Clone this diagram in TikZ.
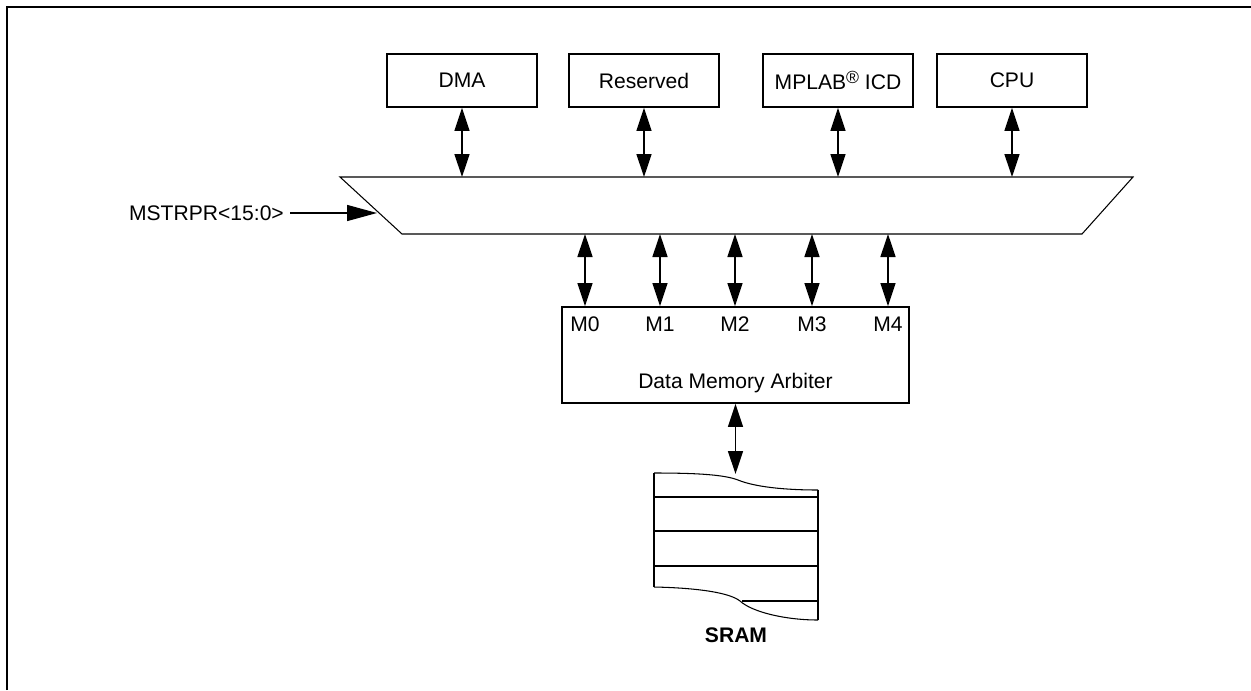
\documentclass[tikz,border=0pt]{standalone}
\usepackage{fontspec}
\setmainfont{Liberation Sans}
\usetikzlibrary{arrows.meta}

\begin{document}
\begin{tikzpicture}[x=0.02cm, y=-0.02cm,
  font=\fontsize{12}{14}\selectfont,
  >={Triangle[length=0.46cm,width=0.3cm]},
  block/.style={draw, line width=1pt, minimum width=3cm, minimum height=1.06cm, inner sep=0pt},
  link/.style={<->, line width=0.8pt}]
\useasboundingbox (0,0) rectangle (1251,690);
\draw[line width=1.2pt] (7,690) -- (7,7) -- (1251,7);

\node[block] (dma) at (462,80.5) {DMA};
\node[block] (res) at (644,80.5) {Reserved};
\node[block] (icd) at (838,80.5) {MPLAB\raisebox{0.55ex}{\fontsize{10}{10}\selectfont\textregistered} ICD};
\node[block] (cpu) at (1012,80.5) {CPU};

\coordinate (mtl) at (340,177);
\coordinate (mtr) at (1133,177);
\coordinate (mbr) at (1082,234);
\coordinate (mbl) at (402,234);
\draw[line width=0.6pt] (mtl) -- (mtr) -- (mbr) -- (mbl) -- cycle;

\foreach \m in {dma, res, icd, cpu}
	\draw[link] (\m.south) -- (\m.south |- mtl);

\node[anchor=east] (sel) at (290,213) {MSTRPR<15:0>};
\coordinate (selin) at (377,213);
\draw[->, line width=0.8pt, >={Triangle[length=0.6cm,width=0.32cm]}] (sel) -- (selin);

\node[draw, line width=1pt, minimum width=6.94cm, minimum height=1.92cm] (arb) at (735.5,355) {};
\node (arbtxt) at (735.5,383) {Data Memory Arbiter};

\foreach \i/\x in {0/585, 1/660, 2/735, 3/812, 4/888} {
	\coordinate (p\i) at (\x,234);
	\node (m\i) at (\x,324) {M\i};
	\draw[link] (p\i) -- (p\i |- arb.north);
}

\coordinate (sramtop) at (735.5,474);
\draw[link] (arb.south) -- (sramtop);

\draw[line width=1pt] (818,490) -- (818,620);
\draw[line width=1pt] (654,473) -- (654,587);
\draw[line width=0.6pt] (654,473) .. controls (700,473) and (725,475) .. (738,480) .. controls (755,487) and (785,490) .. (818,490);
\draw[line width=0.6pt] (654,587) .. controls (700,588) and (730,593) .. (740,601) .. controls (752,612) and (785,620) .. (818,620);
\foreach \y in {497, 531, 566}
	\draw[line width=1pt] (654,\y) -- (818,\y);
\draw[line width=1pt] (742,601) -- (818,601);

\node[font=\fontsize{12}{14}\selectfont\bfseries] (sram) at (736,635) {SRAM};

\end{tikzpicture}
\end{document}
